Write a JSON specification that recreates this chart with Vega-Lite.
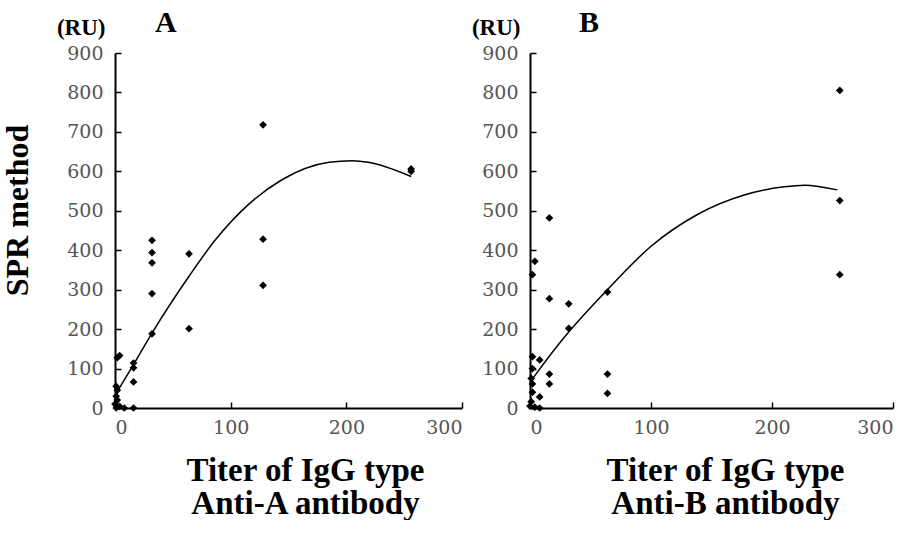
{
  "$schema": "https://vega.github.io/schema/vega-lite/v6.json",
  "background": "white",
  "padding": {"left": 2, "top": 8, "right": 5, "bottom": 0},
  "title": {"text": "SPR method", "orient": "left", "anchor": "middle", "font": "Liberation Serif", "fontSize": 32, "fontWeight": "bold", "color": "black", "offset": 21, "dx": 20},
  "spacing": 8,
  "config": {
    "view": {"stroke": null},
    "axis": {
      "grid": false,
      "domainColor": "black",
      "domainWidth": 2,
      "tickColor": "black",
      "tickWidth": 1.5,
      "tickSize": -6,
      "labelFont": "DejaVu Serif",
      "labelFontSize": 19,
      "labelColor": "#555555",
      "labelOverlap": false,
      "titleFont": "Liberation Serif",
      "titleFontWeight": "bold",
      "titleColor": "black"
    },
    "title": {"font": "Liberation Serif", "fontWeight": "bold", "color": "black", "fontSize": 30, "anchor": "start", "frame": "group"}
  },
  "datasets": {
    "pointsA": [
      {"titer": 256, "ru": 606}, {"titer": 256, "ru": 600},
      {"titer": 128, "ru": 718}, {"titer": 128, "ru": 428}, {"titer": 128, "ru": 311},
      {"titer": 64, "ru": 391}, {"titer": 64, "ru": 201},
      {"titer": 32, "ru": 425}, {"titer": 32, "ru": 394}, {"titer": 32, "ru": 368}, {"titer": 32, "ru": 290}, {"titer": 32, "ru": 188},
      {"titer": 16, "ru": 114}, {"titer": 16, "ru": 102}, {"titer": 16, "ru": 66}, {"titer": 16, "ru": 0},
      {"titer": 4, "ru": 133}, {"titer": 2, "ru": 128},
      {"titer": 1, "ru": 55}, {"titer": 2, "ru": 45}, {"titer": 1, "ru": 30}, {"titer": 2, "ru": 20},
      {"titer": 0, "ru": 10}, {"titer": 4, "ru": 4}, {"titer": 8, "ru": 0}, {"titer": 1, "ru": 0}
    ],
    "pointsB": [
      {"titer": 256, "ru": 805}, {"titer": 256, "ru": 526}, {"titer": 256, "ru": 338},
      {"titer": 64, "ru": 294}, {"titer": 64, "ru": 86}, {"titer": 64, "ru": 37},
      {"titer": 32, "ru": 264}, {"titer": 32, "ru": 202},
      {"titer": 16, "ru": 482}, {"titer": 16, "ru": 277}, {"titer": 16, "ru": 86}, {"titer": 16, "ru": 61},
      {"titer": 8, "ru": 122}, {"titer": 8, "ru": 28},
      {"titer": 4, "ru": 372}, {"titer": 2, "ru": 338},
      {"titer": 2, "ru": 130}, {"titer": 2, "ru": 100}, {"titer": 1, "ru": 75}, {"titer": 2, "ru": 61}, {"titer": 2, "ru": 40},
      {"titer": 1, "ru": 16}, {"titer": 0, "ru": 5}, {"titer": 4, "ru": 2}, {"titer": 8, "ru": 0}
    ],
    "curveA": [
      {"titer": 0, "ru": 32}, {"titer": 16, "ru": 110}, {"titer": 32, "ru": 190}, {"titer": 64, "ru": 334},
      {"titer": 87, "ru": 427}, {"titer": 115, "ru": 515}, {"titer": 144, "ru": 578}, {"titer": 185, "ru": 623},
      {"titer": 205, "ru": 627}, {"titer": 219, "ru": 623}, {"titer": 256, "ru": 587}
    ],
    "curveB": [
      {"titer": 0, "ru": 65}, {"titer": 4, "ru": 82}, {"titer": 28, "ru": 178}, {"titer": 64, "ru": 300},
      {"titer": 100, "ru": 410}, {"titer": 138, "ru": 490}, {"titer": 177, "ru": 540}, {"titer": 210, "ru": 561},
      {"titer": 227, "ru": 565}, {"titer": 254, "ru": 553}
    ]
  },
  "hconcat": [
    {
      "width": 347,
      "height": 355,
      "title": {"text": "A", "dx": 40, "offset": -22},
      "encoding": {
        "x": {"field": "titer", "type": "quantitative", "scale": {"domain": [0, 300], "nice": false},
          "axis": {"values": [0, 100, 200, 300], "title": ["Titer of IgG type", "Anti-A antibody"], "titleFontSize": 33, "titleLineHeight": 33, "titlePadding": 17, "labelPadding": 16, "titleX": 190}},
        "y": {"field": "ru", "type": "quantitative", "scale": {"domain": [0, 900], "nice": false},
          "axis": {"values": [0, 100, 200, 300, 400, 500, 600, 700, 800, 900], "title": "(RU)", "titleAngle": 0, "titleAlign": "right", "titleBaseline": "middle", "titleX": -10, "titleY": -26, "titleFontSize": 23, "labelPadding": 18}}
      },
      "layer": [
        {
          "data": {"name": "pointsA"},
          "mark": {"type": "point", "shape": "diamond", "filled": true, "color": "black", "size": 60, "opacity": 1}
        },
        {
          "data": {"name": "curveA"},
          "mark": {"type": "line", "color": "black", "strokeWidth": 1.5, "interpolate": "monotone"}
        }
      ]
    },
    {
      "width": 363,
      "height": 355,
      "title": {"text": "B", "dx": 49, "offset": -22},
      "encoding": {
        "x": {"field": "titer", "type": "quantitative", "scale": {"domain": [0, 300], "nice": false},
          "axis": {"values": [0, 100, 200, 300], "title": ["Titer of IgG type", "Anti-B antibody"], "titleFontSize": 33, "titleLineHeight": 33, "titlePadding": 17, "labelPadding": 16, "titleX": 195}},
        "y": {"field": "ru", "type": "quantitative", "scale": {"domain": [0, 900], "nice": false},
          "axis": {"values": [0, 100, 200, 300, 400, 500, 600, 700, 800, 900], "title": "(RU)", "titleAngle": 0, "titleAlign": "right", "titleBaseline": "middle", "titleX": -10, "titleY": -26, "titleFontSize": 23, "labelPadding": 18}}
      },
      "layer": [
        {
          "data": {"name": "pointsB"},
          "mark": {"type": "point", "shape": "diamond", "filled": true, "color": "black", "size": 60, "opacity": 1}
        },
        {
          "data": {"name": "curveB"},
          "mark": {"type": "line", "color": "black", "strokeWidth": 1.5, "interpolate": "monotone"}
        }
      ]
    }
  ]
}
